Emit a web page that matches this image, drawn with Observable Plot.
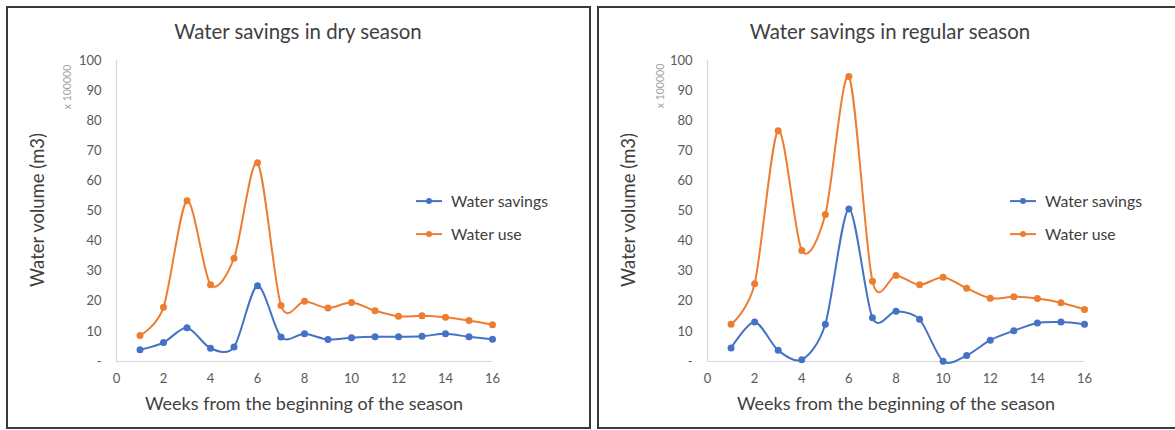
<!DOCTYPE html>
<html><head><meta charset="utf-8">
<script src="https://cdn.jsdelivr.net/npm/d3@7"></script>
<script src="https://cdn.jsdelivr.net/npm/@observablehq/plot@0.6"></script>
<style>
body{margin:0;background:#fff;font-family:Lato,"Open Sans",sans-serif;}
#wrap{position:relative;width:1175px;height:430px;overflow:hidden;background:#fff;}
.panel{position:absolute;border:2px solid #3a3a3a;box-sizing:border-box;}
.abs{position:absolute;white-space:nowrap;color:#404040;line-height:1;}
.title{font-size:20.4px;transform:translate(-50%,-50%);}
.ytitle{font-size:18.5px;transform:translate(-50%,-50%) rotate(-90deg);}
.unit{font-size:10.5px;color:#a0a0a0;transform:translate(-50%,-50%) rotate(-90deg);}
.xtitle{font-size:18px;transform:translate(-50%,-50%);}
.leg{font-size:15.8px;transform:translate(0,-50%);display:flex;align-items:center;}
.leg svg{margin-right:9px;}
.chart{position:absolute;top:0;}
</style>
</head><body>
<div id="wrap"></div>
<script>
// ---- data ----
const weeks = [1,2,3,4,5,6,7,8,9,10,11,12,13,14,15,16];
const drySavings = [3.9,6.3,11.2,4.4,4.8,25.2,8.1,9.2,7.3,7.9,8.2,8.2,8.4,9.2,8.2,7.4];
const dryUse     = [8.6,18.0,53.4,25.5,34.3,66.0,18.6,20.0,17.8,19.6,16.9,15.0,15.2,14.7,13.6,12.2];
const regSavings = [4.5,13.1,3.7,0.6,12.4,50.7,14.5,16.7,14.0,0.1,2.0,7.1,10.2,12.8,13.1,12.4];
const regUse     = [12.4,25.8,76.7,36.9,48.8,94.7,26.7,28.6,25.5,28.0,24.3,21.0,21.5,20.9,19.5,17.3];
const xTicks = [0,2,4,6,8,10,12,14,16];
const yTicks = [0,10,20,30,40,50,60,70,80,90,100];
const seriesNames = ["Water savings","Water use"];
const seriesColors = ["#4472C4","#ED7D31"];
const titles = ["Water savings in dry season","Water savings in regular season"];
const yTitle = "Water volume (m3)";
const xTitle = "Weeks from the beginning of the season";
const unitLabel = "x 100000";

const wrap = document.getElementById("wrap");

function el(cls, text, left, top, parent){
  const d = document.createElement("div");
  d.className = "abs " + cls;
  if (text != null) d.textContent = text;
  d.style.left = left + "px"; d.style.top = top + "px";
  (parent||wrap).appendChild(d);
  return d;
}

function chart(savings, use, cfg){
  const rows = (vals, s) => weeks.map((w,i)=>({week:w, value:vals[i], series:s}));
  const sv = rows(savings, seriesNames[0]);
  const us = rows(use, seriesNames[1]);
  const svg = Plot.plot({
    width: cfg.width, height: 430,
    marginLeft: cfg.ml, marginRight: cfg.mr, marginTop: 60, marginBottom: 69,
    style: {background:"transparent", fontFamily:"Lato, 'Open Sans', sans-serif", fontSize:"13px", color:"#595959", overflow:"visible"},
    x: {domain:[0,16], ticks:xTicks, tickSize:0, tickPadding:12, label:null},
    y: {domain:[0,100], ticks:yTicks, tickSize:0, tickPadding:15, label:null, tickFormat: d => d === 0 ? "-" : d},
    marks: [
      Plot.ruleY([0], {stroke:"#d9d9d9", strokeWidth:1.2}),
      Plot.ruleX([0], {stroke:"#d9d9d9", strokeWidth:1.2}),
      Plot.line(us, {x:"week", y:"value", stroke:seriesColors[1], strokeWidth:2, curve:"cardinal", tension:0.15}),
      Plot.dot(us, {x:"week", y:"value", fill:seriesColors[1], r:3.5}),
      Plot.line(sv, {x:"week", y:"value", stroke:seriesColors[0], strokeWidth:2, curve:"cardinal", tension:0.15}),
      Plot.dot(sv, {x:"week", y:"value", fill:seriesColors[0], r:3.5})
    ]
  });
  svg.classList.add("chart");
  svg.style.left = cfg.left + "px";
  wrap.appendChild(svg);
}

function legend(x, y){
  seriesNames.forEach((name, i) => {
    const d = el("leg", null, x, y + i*33);
    d.innerHTML = `<svg width="26" height="8"><line x1="0" y1="4" x2="26" y2="4" stroke="${seriesColors[i]}" stroke-width="2"/><circle cx="13" cy="4" r="3" fill="${seriesColors[i]}"/></svg><span>${name}</span>`;
  });
}

// panels
const p1 = document.createElement("div"); p1.className = "panel";
Object.assign(p1.style, {left:"6px", top:"6px", width:"585px", height:"423px"});
wrap.appendChild(p1);
const p2 = document.createElement("div"); p2.className = "panel";
Object.assign(p2.style, {left:"597px", top:"6px", width:"585px", height:"423px"});
wrap.appendChild(p2);

chart(drySavings, dryUse, {left:0, width:595, ml:116, mr:103});
chart(regSavings, regUse, {left:595, width:580, ml:112, mr:91});

el("title", titles[0], 298, 31);
el("title", titles[1], 890, 31);
el("ytitle", yTitle, 37, 210);
el("ytitle", yTitle, 628, 210);
el("unit", unitLabel, 67, 87);
el("unit", unitLabel, 660, 86);
el("xtitle", xTitle, 304, 403);
el("xtitle", xTitle, 896, 403);
legend(416, 201);
legend(1010, 201);
</script>
</body></html>
